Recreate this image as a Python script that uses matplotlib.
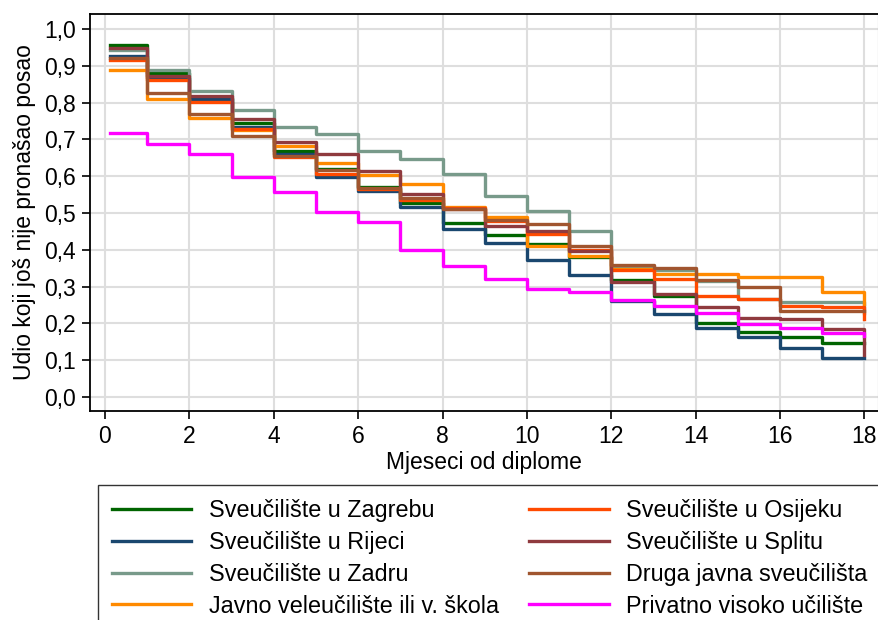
import matplotlib
matplotlib.use("Agg")
import matplotlib.pyplot as plt

plt.rcParams['font.family'] = ['Liberation Sans', 'DejaVu Sans']

# months where the step changes (last point = end of follow-up at 18)
months = [0.12, 1, 2, 3, 4, 5, 6, 7, 8, 9, 10, 11, 12, 13, 14, 15, 16, 17, 18]

zagreb = [0.958, 0.880, 0.813, 0.744, 0.670, 0.621, 0.572, 0.528, 0.474, 0.440,
          0.415, 0.380, 0.318, 0.275, 0.200, 0.178, 0.162, 0.146, 0.146]
rijeka = [0.927, 0.867, 0.809, 0.735, 0.660, 0.598, 0.560, 0.517, 0.458, 0.418,
          0.373, 0.331, 0.262, 0.226, 0.187, 0.164, 0.132, 0.105, 0.105]
zadar = [0.943, 0.890, 0.832, 0.781, 0.735, 0.716, 0.669, 0.647, 0.606, 0.546,
         0.505, 0.451, 0.357, 0.344, 0.315, 0.266, 0.257, 0.257, 0.227]
javno = [0.889, 0.810, 0.757, 0.725, 0.683, 0.635, 0.603, 0.580, 0.517, 0.490,
         0.411, 0.384, 0.347, 0.335, 0.334, 0.325, 0.325, 0.286, 0.254]
osijek = [0.917, 0.861, 0.801, 0.728, 0.651, 0.606, 0.565, 0.535, 0.513, 0.478,
          0.444, 0.400, 0.345, 0.322, 0.275, 0.266, 0.248, 0.246, 0.212]
split = [0.948, 0.873, 0.818, 0.755, 0.692, 0.661, 0.613, 0.552, 0.512, 0.466,
         0.452, 0.397, 0.313, 0.281, 0.244, 0.214, 0.212, 0.184, 0.114]
druga = [0.922, 0.825, 0.769, 0.710, 0.656, 0.617, 0.567, 0.542, 0.511, 0.482,
         0.471, 0.410, 0.360, 0.352, 0.318, 0.300, 0.234, 0.233, 0.233]
privatno = [0.718, 0.688, 0.660, 0.598, 0.558, 0.504, 0.476, 0.399, 0.357, 0.320,
            0.294, 0.286, 0.265, 0.247, 0.229, 0.198, 0.187, 0.173, 0.166]

labels = ["Sveučilište u Zagrebu", "Sveučilište u Rijeci", "Sveučilište u Zadru",
          "Javno veleučilište ili v. škola", "Sveučilište u Osijeku",
          "Sveučilište u Splitu", "Druga javna sveučilišta", "Privatno visoko učilište"]
series = [zagreb, rijeka, zadar, javno, osijek, split, druga, privatno]
colors = ["#006400", "#1a476f", "#789a8a", "#ff8a00", "#ff4a00", "#8f3a3e",
          "#a0552f", "#ff00ff"]

fig = plt.figure(figsize=(8.79, 6.2), dpi=100)
ax = fig.add_axes([90/879, 1-411/620, 788/879, 397/620])

for vals, lab, col in zip(series, labels, colors):
    ax.step(months, vals, where='post', color=col, lw=2.4, label=lab)

ax.set_xlim(-0.355, 18.32)
ax.set_ylim(-0.038, 1.041)
ax.set_xticks(range(0, 19, 2))
yt = [i/10 for i in range(11)]
ax.set_yticks(yt)
ax.set_yticklabels([f"{v:.1f}".replace('.', ',') for v in yt])
ax.grid(True, color='#dedede', lw=1.5)
ax.set_axisbelow(True)
ax.tick_params(labelsize=16.5, length=6, width=1.2, color='black', pad=4)
for s in ['left', 'bottom', 'top']:
    ax.spines[s].set_linewidth(1.3)
ax.spines['right'].set_color('#999999')

ax.set_xlabel("Mjeseci od diplome", fontsize=16.5, labelpad=2)
ax.set_ylabel("Udio koji još nije pronašao posao", fontsize=16.5, labelpad=6)

fig.legend(loc='upper left', bbox_to_anchor=(98/879, 1-485/620), ncol=2,
           fontsize=16.8, frameon=True, fancybox=False, edgecolor='black',
           handlelength=3.4, handletextpad=0.75, columnspacing=1.3,
           labelspacing=0.38, borderpad=0.6, borderaxespad=0)

fig.savefig("out.png", dpi=100)
